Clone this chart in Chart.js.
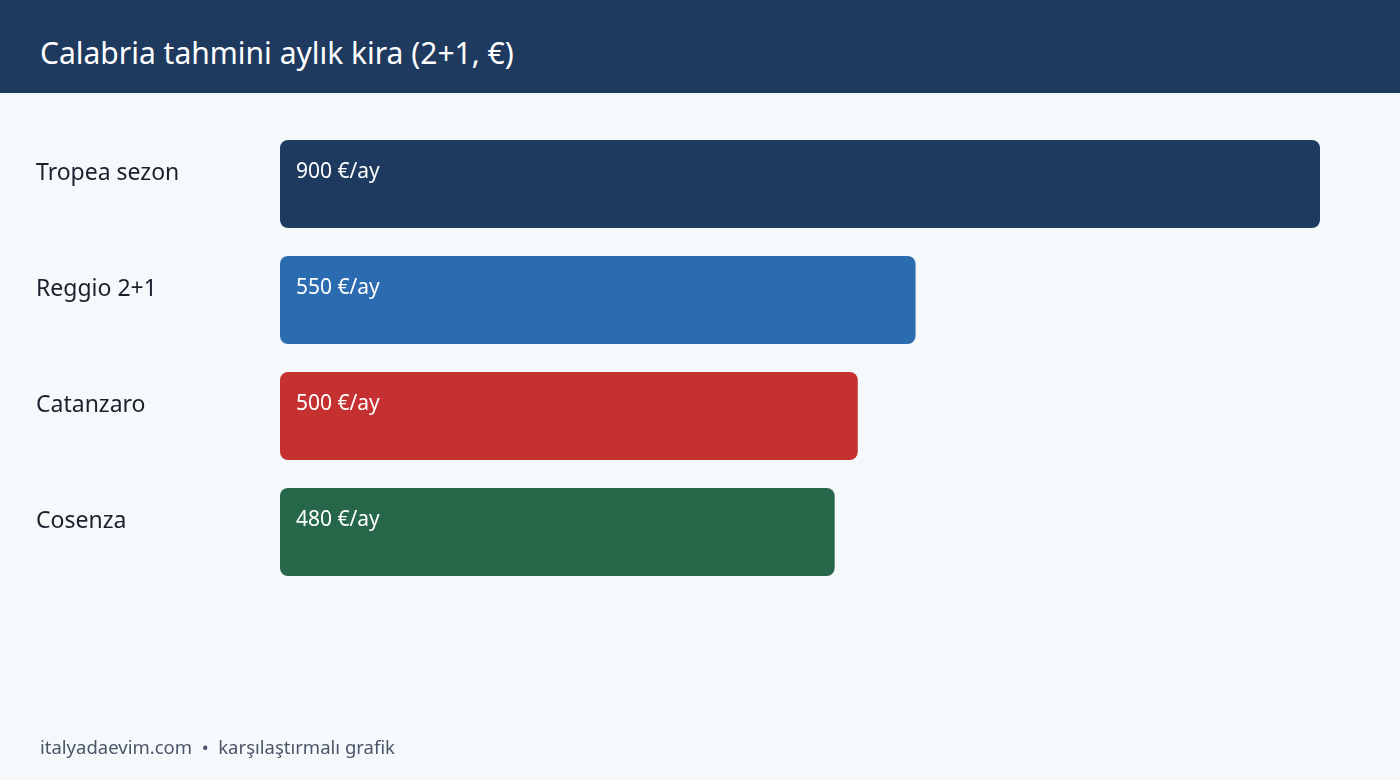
<html>
  <head>
    <title>Calabria kira</title>
    <script src="https://cdn.jsdelivr.net/npm/chart.js"></script>
    <style>
      body { margin:0; width:1400px; height:780px; background:#f5f9fc; font-family:"Noto Sans", sans-serif; overflow:hidden; position:relative; }
      #header { position:absolute; left:0; top:0; width:1400px; height:93px; background:#1f3a5f; }
      #header h1 { margin:0; position:absolute; left:40px; top:33px; font-size:30px; line-height:40px; font-weight:400; color:#ffffff; }
      #wrap { position:absolute; left:0; top:93px; width:1400px; height:687px; }
      #footer { position:absolute; left:40px; top:735px; font-size:18.5px; line-height:24px; color:#4a5568; }
    </style>
  </head>
  <body>
    <div id="header"><h1>Calabria tahmini aylık kira (2+1, €)</h1></div>
    <div id="wrap"><canvas id="bars"></canvas></div>
    <div id="footer">italyadaevim.com &nbsp;•&nbsp; karşılaştırmalı grafik</div>

    <script>
      // data
      var cities = ["Tropea sezon", "Reggio 2+1", "Catanzaro", "Cosenza"];
      var rents = [900, 550, 500, 480];
      var barColors = ["#1f3a5f", "#2b6cb0", "#c53030", "#276749"];
      var unit = " €/ay";

      // writes the value inside each bar, near its top-left corner
      var valueLabels = {
        id: 'valueLabels',
        afterDatasetsDraw: function (chart) {
          var ctx = chart.ctx;
          var meta = chart.getDatasetMeta(0);
          ctx.save();
          ctx.font = '21px "Noto Sans"';
          ctx.fillStyle = '#ffffff';
          ctx.textBaseline = 'middle';
          ctx.textAlign = 'left';
          for (i = 0; i < meta.data.length; i++) {
            var bar = meta.data[i];
            ctx.fillText(rents[i] + unit, bar.base + 16, bar.y - 12);
          }
          ctx.restore();
        }
      };

      new Chart(document.getElementById("bars"), {
        type: 'bar',
        data: {
          labels: cities,
          datasets: [{
            data: rents,
            backgroundColor: barColors,
            borderRadius: 8,
            borderSkipped: false,
            barPercentage: 0.7586,
            categoryPercentage: 1
          }]
        },
        options: {
          indexAxis: 'y',
          responsive: true,
          maintainAspectRatio: false,
          animation: false,
          layout: { padding: { left: 36, right: 80, top: 33, bottom: 190 } },
          plugins: { legend: { display: false }, tooltip: { enabled: false } },
          scales: {
            x: { display: false, min: 0, max: 900 },
            y: {
              grid: { display: false, drawTicks: false },
              border: { display: false },
              ticks: {
                crossAlign: 'far',
                labelOffset: -11,
                padding: 0,
                color: '#1a202c',
                font: { family: 'Noto Sans', size: 23 }
              },
              afterFit: function (axis) { axis.width = 244; }
            }
          }
        },
        plugins: [valueLabels]
      });
    </script>
  </body>
</html>
